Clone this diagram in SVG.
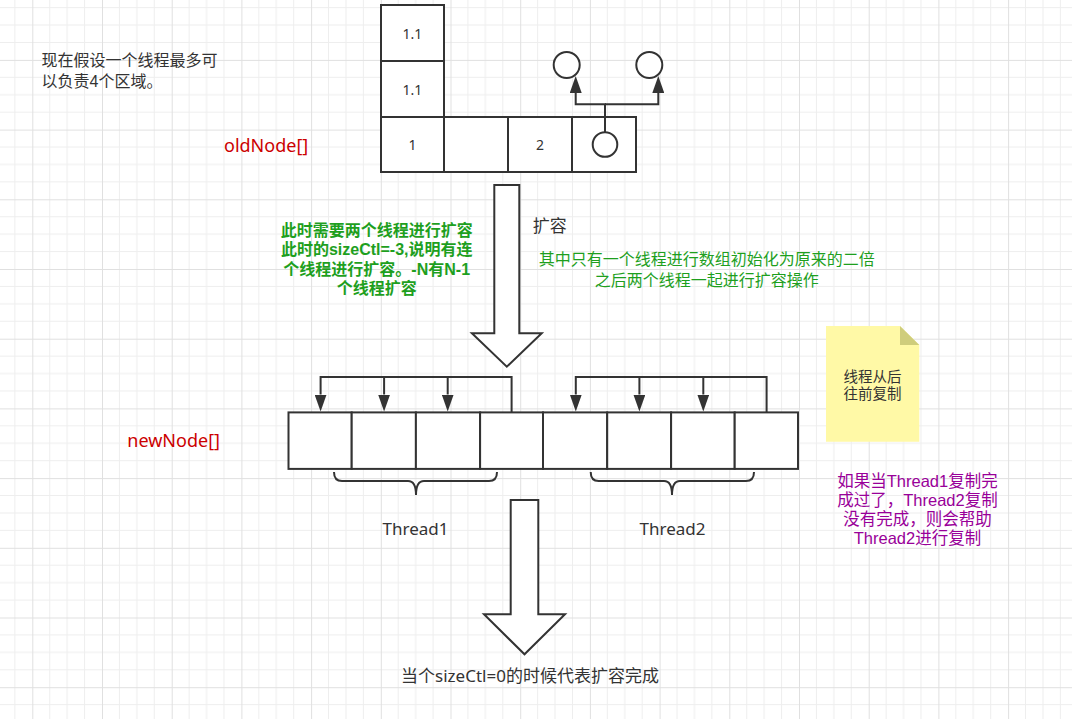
<svg xmlns="http://www.w3.org/2000/svg" width="1072" height="719" viewBox="0 0 1072 719">
<style>
.t{font-family:"Noto Sans","Noto Sans CJK SC",sans-serif;}
.m{font-family:"Liberation Sans","Noto Sans CJK SC",sans-serif;}
.box{fill:#fff;stroke:#333;stroke-width:2;}
.dark{fill:#333;}
.c{text-anchor:middle;}
.con{fill:none;stroke:#333;stroke-width:2;}
.big{fill:#fff;stroke:#333;stroke-width:2;stroke-linejoin:miter;}
.green{fill:#1e9f1e;}
.red{fill:#cc0000;}
.purple{fill:#990099;}
</style>
<defs>
<pattern id="grid" patternUnits="userSpaceOnUse" x="32.3" y="59.9" width="69.7" height="69.7">
<path d="M17.42,0V69.7M34.85,0V69.7M52.27,0V69.7M0,17.42H69.7M0,34.85H69.7M0,52.27H69.7" stroke="#eeeeee" stroke-width="1" fill="none"/>
<path d="M0.5,0V69.7M0,0.5H69.7" stroke="#e0e0e0" stroke-width="1" fill="none"/>
</pattern>
<marker id="ah" viewBox="0 0 17 12" refX="0" refY="6" markerWidth="17" markerHeight="12" markerUnits="userSpaceOnUse" orient="auto">
<path d="M0,0L17,6L0,12Z" fill="#333"/>
</marker>
</defs>
<rect x="0" y="0" width="1072" height="719" fill="#fff"/>
<rect x="0" y="0" width="1072" height="719" fill="url(#grid)"/>

<g id="intro-text">
<text class="m dark" font-size="16"><tspan x="41.5" y="66">现在假设一个线程最多可</tspan><tspan x="41.5" y="86.5">以负责4个区域。</tspan></text>
</g>

<g id="oldNode-label"><text class="t red" x="224" y="152" font-size="18">oldNode[]</text></g>
<g id="newNode-label"><text class="t red" x="127.3" y="447" font-size="18">newNode[]</text></g>

<g id="oldNode">
<rect class="box" x="381" y="5" width="63" height="56"/>
<rect class="box" x="381" y="61" width="63" height="56"/>
<rect class="box" x="381" y="117" width="63" height="55"/>
<rect class="box" x="444" y="117" width="64" height="55"/>
<rect class="box" x="508" y="117" width="64" height="55"/>
<rect class="box" x="572" y="117" width="64" height="55"/>
<text class="t dark c" x="412.5" y="39" font-size="14">1.1</text>
<text class="t dark c" x="412.5" y="95" font-size="14">1.1</text>
<text class="t dark c" x="412.5" y="149.5" font-size="14">1</text>
<text class="t dark c" x="540" y="149.5" font-size="14">2</text>
</g>
<g id="circle-src"><circle class="box" cx="605" cy="144.5" r="12.3"/></g>
<g id="circle-left"><circle class="box" cx="566.7" cy="65" r="13"/></g>
<g id="circle-right"><circle class="box" cx="649.3" cy="65" r="13"/></g>

<g id="newNode">
<rect class="box" x="288.5" y="412.4" width="63.2" height="56.5"/>
<rect class="box" x="351.7" y="412.4" width="64.2" height="56.5"/>
<rect class="box" x="415.9" y="412.4" width="64.2" height="56.5"/>
<rect class="box" x="480.1" y="412.4" width="62.9" height="56.5"/>
<rect class="box" x="543" y="412.4" width="64.2" height="56.5"/>
<rect class="box" x="607.2" y="412.4" width="63.9" height="56.5"/>
<rect class="box" x="671.1" y="412.4" width="63.6" height="56.5"/>
<rect class="box" x="734.7" y="412.4" width="63.3" height="56.5"/>
</g>

<g id="connectors">
<path class="con" d="M605,132.2V104.3H575.7V93" marker-end="url(#ah)"/>
<path class="con" d="M605,104.3H658.3V93" marker-end="url(#ah)"/>
<path class="con" d="M511.6,412V377H320.6V394.5" marker-end="url(#ah)"/>
<path class="con" d="M384.1,377V394.5" marker-end="url(#ah)"/>
<path class="con" d="M447.7,377V394.5" marker-end="url(#ah)"/>
<path class="con" d="M766.6,412V377H575.8V394.5" marker-end="url(#ah)"/>
<path class="con" d="M639.4,377V394.5" marker-end="url(#ah)"/>
<path class="con" d="M703.3,377V394.5" marker-end="url(#ah)"/>
</g>

<g id="arrow-expand"><polygon class="big" points="494.3,185 519.3,185 519.3,333.3 541.7,333.3 506.8,366.7 471.9,333.3 494.3,333.3"/></g>
<g id="arrow-done"><polygon class="big" points="510.7,500 538.3,500 538.3,614.3 565,614.3 524.5,654.3 484,614.3 510.7,614.3"/></g>

<g id="brace-thread1">
<path class="con" d="M334,472Q334,481 342,481H408Q416,481 416,495Q416,481 424,481H489Q497,481 497,472"/>
<text class="t dark c" x="415.5" y="534.5" font-size="17">Thread1</text>
</g>
<g id="brace-thread2">
<path class="con" d="M590.7,472Q590.7,481 598.7,481H664Q672,481 672,495Q672,481 680,481H746Q754,481 754,472"/>
<text class="t dark c" x="672.5" y="534.5" font-size="17">Thread2</text>
</g>

<g id="label-expand"><text class="t dark" x="532.7" y="232" font-size="17">扩容</text></g>

<g id="green-left">
<text class="m green c" font-size="16" font-weight="bold"><tspan x="376.7" y="235.5">此时需要两个线程进行扩容</tspan><tspan x="376.7" y="255">此时的sizeCtl=-3,说明有连</tspan><tspan x="376.7" y="274.5">个线程进行扩容。-N有N-1</tspan><tspan x="376.7" y="294">个线程扩容</tspan></text>
</g>

<g id="green-right">
<text class="m green c" font-size="16"><tspan x="706.7" y="265">其中只有一个线程进行数组初始化为原来的二倍</tspan><tspan x="706.7" y="285.5">之后两个线程一起进行扩容操作</tspan></text>
</g>

<g id="note">
<path d="M826,326H900L919.3,345V441.7H826Z" fill="#fff9a6"/>
<path d="M900,326L919.3,345H900Z" fill="#cfcd7c"/>
<text class="m dark c" font-size="14.5"><tspan x="872.5" y="381.5">线程从后</tspan><tspan x="872.5" y="399">往前复制</tspan></text>
</g>

<g id="purple-text">
<text class="m purple c" font-size="16.5"><tspan x="917.5" y="487">如果当Thread1复制完</tspan><tspan x="917.5" y="506">成过了，Thread2复制</tspan><tspan x="917.5" y="525">没有完成，则会帮助</tspan><tspan x="917.5" y="544">Thread2进行复制</tspan></text>
</g>

<g id="bottom-text"><text class="t dark c" x="530" y="681.5" font-size="17">当个sizeCtl=0的时候代表扩容完成</text></g>
</svg>
